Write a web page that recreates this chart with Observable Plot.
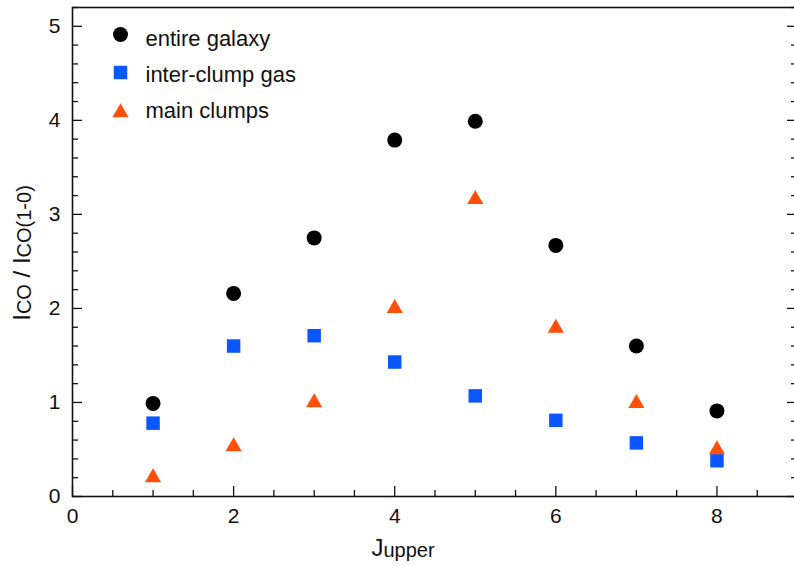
<!DOCTYPE html>
<html><head><meta charset="utf-8">
<script src="https://cdn.jsdelivr.net/npm/d3@7"></script>
<script src="https://cdn.jsdelivr.net/npm/@observablehq/plot@0.6"></script>
<style>
html,body{margin:0;padding:0;overflow:hidden;background:#fff;width:794px;height:566px}
#chart svg{display:block;max-width:none !important}
</style>
</head><body><div id="chart"></div>
<script>
const jUpper = [1, 2, 3, 4, 5, 6, 7, 8];
const entireGalaxy = [0.99, 2.16, 2.75, 3.79, 3.99, 2.67, 1.60, 0.91];
const interClump = [0.78, 1.60, 1.71, 1.43, 1.07, 0.81, 0.57, 0.38];
const mainClumps = [0.20, 0.53, 1.00, 2.00, 3.16, 1.79, 0.99, 0.50];
const seriesNames = ["entire galaxy", "inter-clump gas", "main clumps"];
const xMajorTicks = [0, 2, 4, 6, 8];
const xMinorTicks = [0.5, 1, 1.5, 2.5, 3, 3.5, 4.5, 5, 5.5, 6.5, 7, 7.5, 8.5];
const yMajorTicks = [0, 1, 2, 3, 4, 5];
const yMinorTicks = [0.2, 0.4, 0.6, 0.8, 1.2, 1.4, 1.6, 1.8, 2.2, 2.4, 2.6, 2.8, 3.2, 3.4, 3.6, 3.8, 4.2, 4.4, 4.6, 4.8, 5.2];

const W = 798, H = 566, mL = 72, mT = 7, mR = 1, mB = 70;
const pw = W - mL - mR, ph = H - mT - mB;
const colors = ["#000000", "#0a56ff", "#ff4f0a"];
const font = "'Liberation Sans', Arial, Helvetica, sans-serif";

const toRows = (vals) => jUpper.map((j, i) => ({j, v: vals[i]}));
const gal = toRows(entireGalaxy), inter = toRows(interClump), main = toRows(mainClumps);

const legendMark = (i, symbol, r, dy) => Plot.dot([seriesNames[i]], {
  frameAnchor: "top-left", dx: 48, dy, symbol, r, fill: colors[i], stroke: "none"
});
const legendText = (i, dy) => Plot.text([seriesNames[i]], {
  text: d => d, frameAnchor: "top-left", dx: 73, dy, textAnchor: "start",
  fontSize: 22, fill: "#111", lineAnchor: "middle"
});

const chart = Plot.plot({
  width: W, height: H,
  marginLeft: mL, marginTop: mT, marginRight: mR, marginBottom: mB,
  style: {fontFamily: font, background: "#fff", overflow: "visible", maxWidth: "none"},
  x: {domain: [0, 9], axis: null},
  y: {domain: [0, 5.2], axis: null},
  marks: [
    // inward ticks: bottom
    Plot.tickX(xMinorTicks, {x: d => d, insetTop: ph - 6, stroke: "#111", strokeWidth: 1.3}),
    Plot.tickX(xMajorTicks, {x: d => d, insetTop: ph - 10, stroke: "#111", strokeWidth: 1.3}),
    // inward ticks: left
    Plot.tickY(yMinorTicks, {y: d => d, insetRight: pw - 6, stroke: "#111", strokeWidth: 1.3}),
    Plot.tickY(yMajorTicks, {y: d => d, insetRight: pw - 10, stroke: "#111", strokeWidth: 1.3}),
    // inward ticks: right
    Plot.tickY(yMinorTicks, {y: d => d, insetLeft: pw - 6, stroke: "#111", strokeWidth: 1.3}),
    Plot.tickY(yMajorTicks, {y: d => d, insetLeft: pw - 10, stroke: "#111", strokeWidth: 1.3}),
    Plot.frame({stroke: "#111", strokeWidth: 1.6}),
    Plot.axisX({ticks: xMajorTicks, tickSize: 0, tickPadding: 12, fontSize: 21, label: null, tickFormat: d => String(d), color: "#111"}),
    Plot.axisY({ticks: yMajorTicks, tickSize: 0, tickPadding: 12, fontSize: 21, label: null, tickFormat: d => String(d), color: "#111"}),
    // data
    Plot.dot(gal, {x: "j", y: "v", symbol: "circle", r: 7.5, fill: colors[0], stroke: "none"}),
    Plot.dot(inter, {x: "j", y: "v", symbol: "square", r: 7.6, fill: colors[1], stroke: "none"}),
    Plot.dot(main, {x: "j", y: "v", symbol: "triangle", r: 6, fill: colors[2], stroke: "none"}),
    // legend
    legendMark(0, "circle", 7.5, 27),
    legendMark(1, "square", 7.6, 65),
    legendMark(2, "triangle", 6, 105),
    legendText(0, 31),
    legendText(1, 67),
    legendText(2, 103)
  ]
});

chart.style.maxWidth = "none";
document.getElementById("chart").appendChild(chart);

// axis titles with subscripts
const svg = d3.select(chart);
const xt = svg.append("text")
  .attr("x", 403).attr("y", 556)
  .attr("font-family", font).attr("fill", "#111");
xt.append("tspan").attr("font-size", 24).text("J");
xt.append("tspan").attr("font-size", 20).attr("dy", 1).text("upper");

const yt = svg.append("text")
  .attr("transform", "translate(30,253) rotate(-90)")
  .attr("text-anchor", "middle")
  .attr("font-family", font).attr("fill", "#111");
yt.append("tspan").attr("font-size", 24).text("I");
yt.append("tspan").attr("font-size", 20).attr("dy", 1).text("CO");
yt.append("tspan").attr("font-size", 24).attr("dy", -1).text(" / I");
yt.append("tspan").attr("font-size", 20).attr("dy", 1).text("CO(1-0)");
</script>
</body></html>
